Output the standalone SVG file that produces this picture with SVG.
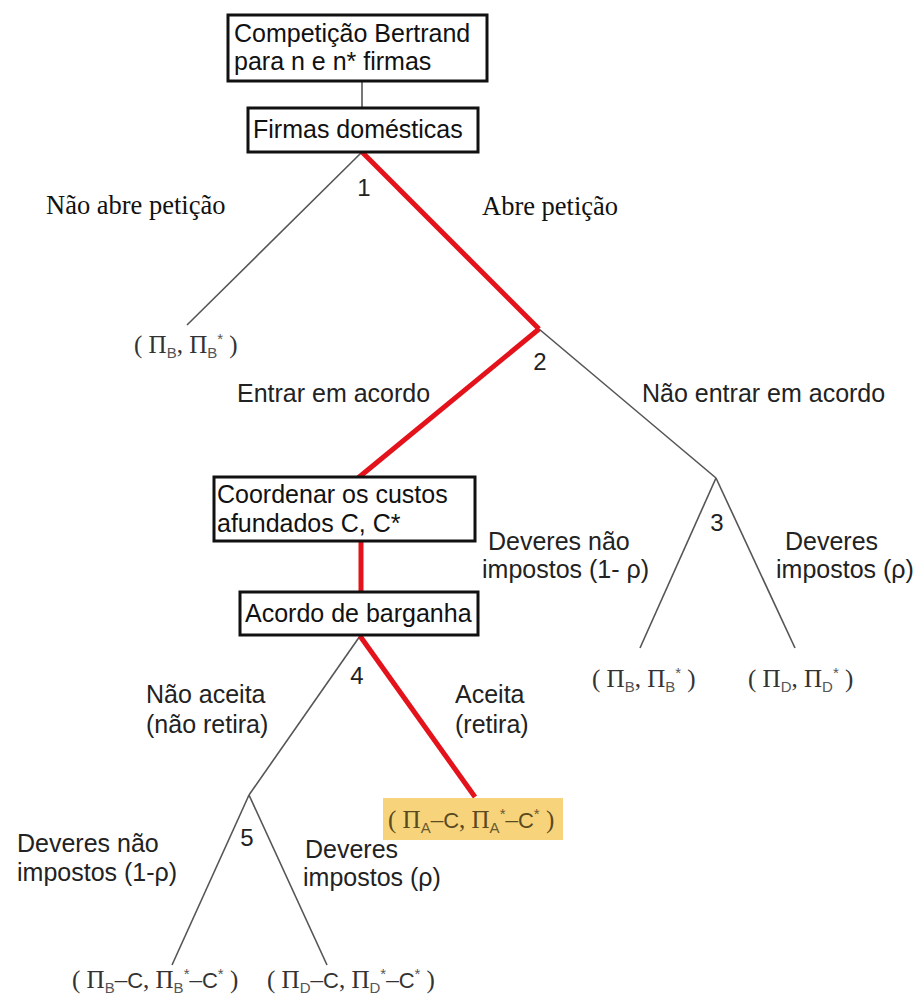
<svg xmlns="http://www.w3.org/2000/svg" width="919" height="1003" viewBox="0 0 919 1003">
<style>
.box{fill:#fff;stroke:#111;stroke-width:3}
.bt{font-family:"Liberation Sans",Arial,sans-serif;font-size:25px;fill:#111}
.lb{font-family:"Liberation Sans",Arial,sans-serif;font-size:25px;fill:#222}
.num{font-family:"Liberation Sans",Arial,sans-serif;font-size:24px;fill:#222;text-anchor:middle}
.sf{font-family:"Liberation Serif","Times New Roman",serif;font-size:26.5px;fill:#111}
.pay{font-family:"Liberation Serif","Times New Roman",serif;font-size:25px;fill:#333}
.ss{font-family:"Liberation Sans",Arial,sans-serif;font-size:15px;fill:#555}
.sc{font-family:"Liberation Sans",Arial,sans-serif;font-size:22px}
.t{stroke:#555;stroke-width:1.6;fill:none}
.r{stroke:#e3121b;stroke-width:5;fill:none}
</style>
<g id="connectors">
<line class="t" x1="362" y1="81" x2="362" y2="108"/>
<line class="t" x1="362" y1="152" x2="187" y2="325"/>
<line class="t" x1="539" y1="329" x2="716" y2="478"/>
<line class="t" x1="716" y1="478" x2="640" y2="648"/>
<line class="t" x1="716" y1="478" x2="795" y2="648"/>
<line class="t" x1="360" y1="636" x2="249" y2="795"/>
<line class="t" x1="249" y1="795" x2="172" y2="965"/>
<line class="t" x1="249" y1="795" x2="327" y2="965"/>
<line class="r" x1="362" y1="152" x2="539" y2="329"/>
<line class="r" x1="539" y1="329" x2="358" y2="478"/>
<line class="r" x1="361" y1="541" x2="361" y2="592"/>
<line class="r" x1="360" y1="636" x2="475" y2="797"/>
</g>
<g id="n-bertrand">
<rect class="box" x="228" y="15" width="259" height="66"/>
<text class="bt" x="234" y="42">Competição Bertrand</text>
<text class="bt" x="234" y="70">para n e n* firmas</text>
</g>
<g id="n-firmas">
<rect class="box" x="248" y="108" width="230" height="44"/>
<text class="bt" x="253" y="138">Firmas domésticas</text>
</g>
<g id="n-coord">
<rect class="box" x="214" y="477" width="261" height="64"/>
<text class="bt" x="217" y="503">Coordenar os custos</text>
<text class="bt" x="217" y="532">afundados C, C*</text>
</g>
<g id="n-acordo">
<rect class="box" x="240" y="592" width="238" height="43"/>
<text class="bt" x="245" y="622">Acordo de barganha</text>
</g>
<g id="labels">
<text class="num" x="364" y="196">1</text>
<text class="num" x="540" y="370">2</text>
<text class="num" x="717" y="531">3</text>
<text class="num" x="357" y="684">4</text>
<text class="num" x="247" y="846">5</text>
<text class="sf" x="46" y="214">Não abre petição</text>
<text class="sf" x="482" y="215">Abre petição</text>
<text class="lb" x="237" y="402">Entrar em acordo</text>
<text class="lb" x="642" y="402">Não entrar em acordo</text>
<text class="lb" x="488" y="550">Deveres não</text>
<text class="lb" x="482" y="578">impostos (1- ρ)</text>
<text class="lb" x="785" y="550">Deveres</text>
<text class="lb" x="776" y="578">impostos (ρ)</text>
<text class="lb" x="146" y="703">Não aceita</text>
<text class="lb" x="146" y="733">(não retira)</text>
<text class="lb" x="455" y="703">Aceita</text>
<text class="lb" x="455" y="733">(retira)</text>
<text class="lb" x="17" y="852">Deveres não</text>
<text class="lb" x="17" y="881">impostos (1-ρ)</text>
<text class="lb" x="305" y="858">Deveres</text>
<text class="lb" x="303" y="886">impostos (ρ)</text>
</g>
<g id="payoffs">
<text class="pay" x="134" y="353">( Π<tspan class="ss" dy="5">B</tspan><tspan dy="-5">, Π</tspan><tspan class="ss" dy="5">B</tspan><tspan class="ss" dy="-14">*</tspan><tspan dy="9"> )</tspan></text>
<text class="pay" x="592" y="687">( Π<tspan class="ss" dy="5">B</tspan><tspan dy="-5">, Π</tspan><tspan class="ss" dy="5">B</tspan><tspan class="ss" dy="-14">*</tspan><tspan dy="9"> )</tspan></text>
<text class="pay" x="748" y="687">( Π<tspan class="ss" dy="5">D</tspan><tspan dy="-5">, Π</tspan><tspan class="ss" dy="5">D</tspan><tspan class="ss" dy="-14">*</tspan><tspan dy="9"> )</tspan></text>
<rect x="383" y="798" width="180" height="42" fill="#f7d47c"/>
<text class="pay" x="388" y="828" style="fill:#5a4a20">( Π<tspan class="ss" dy="5" style="fill:#6a5a30">A</tspan><tspan dy="-5">–</tspan><tspan class="sc">C</tspan><tspan>, Π</tspan><tspan class="ss" dy="5" style="fill:#6a5a30">A</tspan><tspan class="ss" dy="-14" style="fill:#6a5a30">*</tspan><tspan dy="9">–</tspan><tspan class="sc">C</tspan><tspan class="ss" dy="-9" style="fill:#6a5a30">*</tspan><tspan dy="9"> )</tspan></text>
<text class="pay" x="72" y="988">( Π<tspan class="ss" dy="5">B</tspan><tspan dy="-5">–</tspan><tspan class="sc">C</tspan><tspan>, Π</tspan><tspan class="ss" dy="5">B</tspan><tspan class="ss" dy="-14">*</tspan><tspan dy="9">–</tspan><tspan class="sc">C</tspan><tspan class="ss" dy="-9">*</tspan><tspan dy="9"> )</tspan></text>
<text class="pay" x="267" y="988">( Π<tspan class="ss" dy="5">D</tspan><tspan dy="-5">–</tspan><tspan class="sc">C</tspan><tspan>, Π</tspan><tspan class="ss" dy="5">D</tspan><tspan class="ss" dy="-14">*</tspan><tspan dy="9">–</tspan><tspan class="sc">C</tspan><tspan class="ss" dy="-9">*</tspan><tspan dy="9"> )</tspan></text>
</g>
</svg>
